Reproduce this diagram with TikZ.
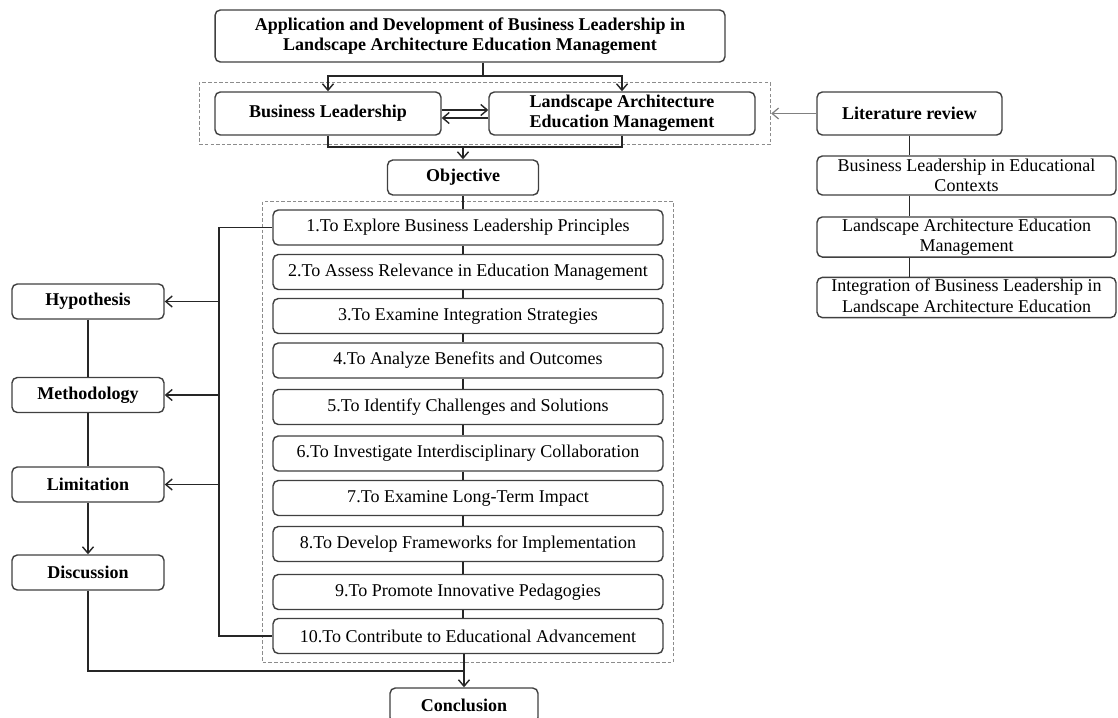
\documentclass[tikz,border=0pt]{standalone}
\usepackage{fontspec}
\setmainfont{Liberation Serif}
\usetikzlibrary{arrows.meta, positioning, fit, calc}
\tikzset{
  % --- Hop ---------------------------------------------------
  boxb/.style={draw=black!75, line width=0.8pt, rounded corners=3pt,
    fill=white, align=center, inner sep=1pt,
    font=\fontsize{10.25}{11.6}\selectfont\bfseries},
  boxn/.style={boxb, font=\fontsize{10.25}{11.5}\selectfont},
  itbox/.style={boxn, minimum width=7.8cm, minimum height=0.7cm},
  sidebox/.style={boxb, minimum width=3.04cm, minimum height=0.7cm},
  litsub/.style={boxn, minimum width=5.98cm, minimum height=0.78cm},
  grpbox/.style={draw=black!45, line width=0.6pt,
    dash pattern=on 2pt off 1.2pt, fill=none},
  % --- Duong noi ---------------------------------------------
  ln/.style={draw=black!85, line width=0.8pt},
  arr/.style={ln, -{Straight Barb[length=1.3mm, width=2.2mm]}},
  arrg/.style={draw=black!50, line width=0.7pt,
    -{Straight Barb[length=1.3mm, width=2.2mm]}}
}

\begin{document}
\begin{tikzpicture}[x=0.02cm, y=-0.02cm]
  \useasboundingbox (0,0) rectangle (1118,717);

  % --- Hang 1: tieu de ------------------------------------------
  \node[boxb, minimum width=10.2cm, minimum height=1.04cm] (title) at (470,36)
    {Application and Development of Business Leadership in\\Landscape Architecture Education Management};

  % --- Hang 2: hai linh vuc + tong quan --------------------------
  \node[boxb, minimum width=4.52cm, minimum height=0.86cm] (bl) at (328,113.5) {Business Leadership};
  \node[boxb, minimum width=5.32cm, minimum height=0.86cm] (laem) at (622,113.5)
    {Landscape Architecture\\Education Management};
  \node[boxb, minimum width=3.7cm, minimum height=0.86cm] (lit) at (909.5,113.5) {Literature review};
  \node[grpbox, fit=(bl)(laem), inner xsep=0.3cm, inner ysep=0.17cm] (frmA) {};

  \node[litsub] (ls1) at (966.5,175.5) {Business Leadership in Educational\\Contexts};
  \node[litsub] (ls2) at (966.5,237) {Landscape Architecture Education\\Management};
  \node[litsub] (ls3) at (966.5,297.5) {Integration of Business Leadership in\\Landscape Architecture Education};

  % --- Hang 3: muc tieu -------------------------------------------
  \node[boxb, minimum width=3.02cm, minimum height=0.7cm] (obj) at (463,177.5) {Objective};

  \node[itbox] (it1) at (468,227.5) {1.To Explore Business Leadership Principles};
  \node[itbox] (it2) at (468,272) {2.To Assess Relevance in Education Management};
  \node[itbox] (it3) at (468,316) {3.To Examine Integration Strategies};
  \node[itbox] (it4) at (468,360.5) {4.To Analyze Benefits and Outcomes};
  \node[itbox] (it5) at (468,407) {5.To Identify Challenges and Solutions};
  \node[itbox] (it6) at (468,453.5) {6.To Investigate Interdisciplinary Collaboration};
  \node[itbox] (it7) at (468,498) {7.To Examine Long-Term Impact};
  \node[itbox] (it8) at (468,544) {8.To Develop Frameworks for Implementation};
  \node[itbox] (it9) at (468,592) {9.To Promote Innovative Pedagogies};
  \node[itbox] (it10) at (468,636) {10.To Contribute to Educational Advancement};
  \node[grpbox, fit=(it1)(it10), inner xsep=0.19cm, inner ysep=0.16cm] (frmB) {};

  % --- Cot trai ---------------------------------------------------
  \node[sidebox] (hyp) at (88,301.5) {Hypothesis};
  \node[sidebox] (meth) at (88,395) {Methodology};
  \node[sidebox] (lim) at (88,484.5) {Limitation};
  \node[sidebox] (disc) at (88,572.5) {Discussion};

  \node[boxb, minimum width=2.96cm, minimum height=0.7cm] (concl) at (464,705.5) {Conclusion};

  % --- Duong noi: tieu de -> linh vuc -----------------------------
  \coordinate (tsplit) at (483,76);
  \draw[ln] (title.south -| tsplit) -- (tsplit);
  \draw[arr] (tsplit) -| (bl.north);
  \draw[arr] (tsplit) -| (laem.north);
  \draw[arr] ([yshift=0.07cm]bl.east) -- ([yshift=0.07cm]laem.west);
  \draw[arr] ([yshift=-0.09cm]laem.west) -- ([yshift=-0.09cm]bl.east);
  \coordinate (osplit) at (463,147);
  \draw[ln] (bl.south) |- (osplit);
  \draw[ln] (laem.south) |- (osplit);
  \draw[arr] (osplit) -- (obj.north);
  \draw[arrg] (lit.west) -- (frmA.east);

  % --- Duong noi: tong quan ---------------------------------------
  \draw[ln] (lit.south) -- (lit.south |- ls1.north);
  \draw[ln] (lit.south |- ls1.south) -- (lit.south |- ls2.north);
  \draw[ln] (lit.south |- ls2.south) -- (lit.south |- ls3.north);

  % --- Duong noi: muc tieu ----------------------------------------
  \draw[ln] (obj.south) -- (obj.south |- it1.north);
  \draw[ln] (it1.south -| obj) -- (it2.north -| obj);
  \draw[ln] (it2.south -| obj) -- (it3.north -| obj);
  \draw[ln] (it3.south -| obj) -- (it4.north -| obj);
  \draw[ln] (it4.south -| obj) -- (it5.north -| obj);
  \draw[ln] (it5.south -| obj) -- (it6.north -| obj);
  \draw[ln] (it6.south -| obj) -- (it7.north -| obj);
  \draw[ln] (it7.south -| obj) -- (it8.north -| obj);
  \draw[ln] (it8.south -| obj) -- (it9.north -| obj);
  \draw[ln] (it9.south -| obj) -- (it10.north -| obj);

  % --- Duong noi: cot trai ----------------------------------------
  \coordinate (busT) at (219,227.5);
  \coordinate (busB) at (219,636);
  \draw[ln] (it1.west) -- (busT) -- (busB) -- (it10.west);
  \draw[arr] (busT |- hyp.east) -- (hyp.east);
  \draw[arr] (busT |- meth.east) -- (meth.east);
  \draw[arr] (busT |- lim.east) -- (lim.east);
  \draw[ln] (hyp) -- (meth);
  \draw[ln] (meth) -- (lim);
  \draw[arr] (lim) -- (disc);

  % --- Duong noi: ket luan ----------------------------------------
  \coordinate (cjoin) at (464,671);
  \draw[ln] (disc.south) |- (cjoin);
  \draw[arr] (it10.south -| concl) -- (concl.north);

\end{tikzpicture}
\end{document}
